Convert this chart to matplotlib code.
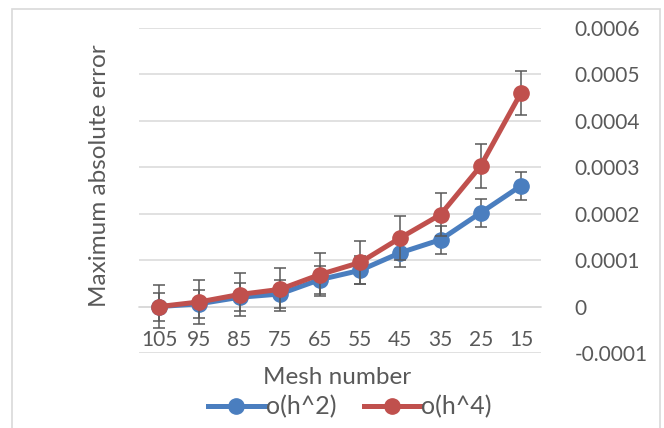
import matplotlib.pyplot as plt
from matplotlib.patches import Rectangle
from matplotlib.lines import Line2D

# data
mesh = ['105', '95', '85', '75', '65', '55', '45', '35', '25', '15']
err_h2 = [0.0, 0.000006, 0.00002, 0.000027, 0.000058, 0.000078, 0.000116, 0.000144, 0.000202, 0.00026]
err_h4 = [0.0, 0.00001, 0.000026, 0.000037, 0.000069, 0.000095, 0.000148, 0.000198, 0.000303, 0.00046]
bar_h2 = [0.00003] * 10
bar_h4 = [0.000047] * 10
yticks = [-0.0001, 0, 0.0001, 0.0002, 0.0003, 0.0004, 0.0005, 0.0006]
ytick_labels = ['-0.0001', '0', '0.0001', '0.0002', '0.0003', '0.0004', '0.0005', '0.0006']

plt.rcParams['font.family'] = ['Lato', 'DejaVu Sans']
txt = '#595959'
blue = '#4A7EBF'
red = '#C0504D'

fig = plt.figure(figsize=(6.64, 4.28), dpi=100)
ax = fig.add_axes([139 / 664, 1 - 353 / 428, 402 / 664, 325 / 428])

# chart area border (Excel style)
fig.patches.append(Rectangle((12 / 664, -0.05), 648 / 664, 1.05 - 9 / 428,
                             transform=fig.transFigure, fill=False,
                             edgecolor='#D9D9D9', linewidth=1.2))

x = list(range(len(mesh)))
for vals, bars, col, z in [(err_h2, bar_h2, blue, 3), (err_h4, bar_h4, red, 4)]:
    ax.errorbar(x, vals, yerr=bars, color=col, lw=3.6, marker='o', ms=11,
                ecolor='#595959', elinewidth=1.1, capsize=4.5, capthick=1.1,
                zorder=z)

ax.set_xlim(-0.5, len(mesh) - 0.5)
ax.set_ylim(-0.0001, 0.0006)
ax.set_yticks(yticks)
ax.set_yticklabels(ytick_labels)
ax.yaxis.tick_right()
ax.tick_params(axis='y', length=0, pad=24, labelsize=15, labelcolor=txt)
for lab in ax.get_yticklabels():
    lab.set_horizontalalignment('left')
ax.set_xticks(x)
ax.set_xticklabels(mesh)
ax.tick_params(axis='x', length=0, pad=17, labelsize=15, labelcolor=txt)
ax.grid(axis='y', color='#D9D9D9', linewidth=1.1)
ax.set_axisbelow(True)
for s in ['top', 'left', 'right']:
    ax.spines[s].set_visible(False)
ax.spines['bottom'].set_position(('data', 0))
ax.spines['bottom'].set_color('#D9D9D9')
ax.spines['bottom'].set_linewidth(1.1)

fig.text(100 / 664, 1 - 176 / 428, 'Maximum absolute error', rotation=90,
         ha='center', va='center', fontsize=17.5, color=txt)
fig.text(337 / 664, 1 - 378 / 428, 'Mesh number', ha='center', va='center',
         fontsize=17.5, color=txt)

handles = [Line2D([], [], color=blue, lw=3.6, marker='o', ms=11),
           Line2D([], [], color=red, lw=3.6, marker='o', ms=11)]
fig.legend(handles, ['o(h^2)', 'o(h^4)'], loc='center', ncol=2,
           bbox_to_anchor=(350 / 664, 1 - 407 / 428), frameon=False,
           fontsize=18, labelcolor=txt, handlelength=2.25, handletextpad=0.05,
           columnspacing=1.1, borderpad=0)

fig.savefig('out.png', dpi=100)
